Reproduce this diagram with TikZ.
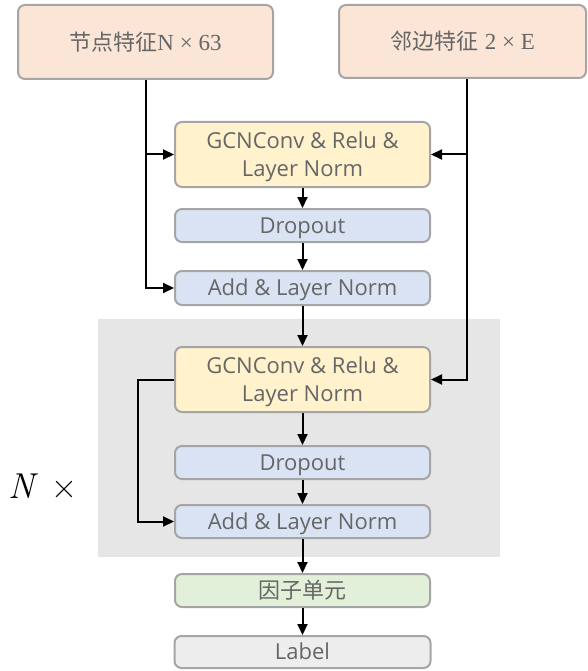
\documentclass[tikz,border=0pt]{standalone}
\usepackage{fontspec}
\newfontfamily\cjk{Noto Sans CJK SC}
\newfontfamily\osans{Open Sans}
\newfontfamily\cserif{Liberation Serif}
\usetikzlibrary{arrows.meta}
\definecolor{peach}{HTML}{FBE5D6}
\definecolor{yellowbox}{HTML}{FFF2CC}
\definecolor{bluebox}{HTML}{DAE3F3}
\definecolor{greenbox}{HTML}{E2F0D9}
\definecolor{labelbox}{HTML}{EDEDED}
\definecolor{bordergray}{HTML}{A5A5A5}
\definecolor{regiongray}{HTML}{E7E6E6}
\definecolor{txt}{HTML}{666666}
\begin{document}
\begin{tikzpicture}[x=1pt,y=-1pt,
  box/.style={draw=bordergray, line width=2pt, rounded corners=7pt, inner sep=0pt,
    minimum width=255pt, minimum height=33pt, align=center, text=txt,
    font=\osans\fontsize{22}{28}\selectfont},
  oneline/.style={box, text height=20pt, text depth=4.3pt},
  twoline/.style={box, text height=48pt, text depth=4.3pt, minimum height=65pt},
  topbox/.style={box, fill=peach, font=\fontsize{22}{28}\selectfont},
  arr/.style={draw=black, line width=2pt, -{Triangle[length=11pt,width=10pt]}}
]
\useasboundingbox (0,0) rectangle (587,671);
% repeated block background
\node[fill=regiongray, inner sep=0pt, minimum width=402pt, minimum height=238pt] (rep) at (299,438) {};
\node[text=black, font=\fontsize{36}{40}\selectfont] (nx) at (43,486) {\itshape N\upshape\ \,×};

% inputs
\node[topbox, minimum width=255pt, minimum height=74pt] (nf) at (145.5,42) {{\cjk 节点特征}{\cserif\fontsize{23}{28}\selectfont N × 63}};
\node[topbox, minimum width=247pt, minimum height=73pt] (rf) at (462.5,41.5) {{\cjk 邻边特征} {\cserif\fontsize{23}{28}\selectfont 2 × E}};

% first block
\node[twoline, fill=yellowbox] (g1) at (302.5,154.5) {GCNConv \& Relu \&\\Layer Norm};
\node[oneline, fill=bluebox] (d1) at (302.5,225.5) {Dropout};
\node[oneline, fill=bluebox, minimum height=34pt] (a1) at (302.5,288) {Add \& Layer Norm};

% repeated block
\node[twoline, fill=yellowbox] (g2) at (302.5,379.5) {GCNConv \& Relu \&\\Layer Norm};
\node[oneline, fill=bluebox] (d2) at (302.5,462.5) {Dropout};
\node[oneline, fill=bluebox] (a2) at (302.5,521.5) {Add \& Layer Norm};

% outputs
\node[box, fill=greenbox, font=\cjk\fontsize{22}{28}\selectfont] (fu) at (302.5,590.5) {因子单元};
\node[oneline, fill=labelbox, minimum width=256pt, minimum height=32pt] (lb) at (302.5,652) {Label};

% connectors
\coordinate (rtop) at ([xshift=4.5pt]rf.south);
\draw[arr] (nf.south) |- (a1.west);
\draw[arr] (nf.south |- g1.west) -- (g1.west);
\draw[arr] (rtop) |- (g2.east);
\draw[arr] (rtop |- g1.east) -- (g1.east);
\draw[arr] (g1) -- (d1);
\draw[arr] (d1) -- (a1);
\draw[arr] (a1) -- (g2);
\draw[arr] (g2) -- (d2);
\draw[arr] (d2) -- (a2);
\draw[arr] (g2.west) -- ([xshift=-36pt]g2.west) |- (a2.west);
\draw[arr] (a2) -- (fu);
\draw[arr] (fu) -- (lb);
\end{tikzpicture}
\end{document}
